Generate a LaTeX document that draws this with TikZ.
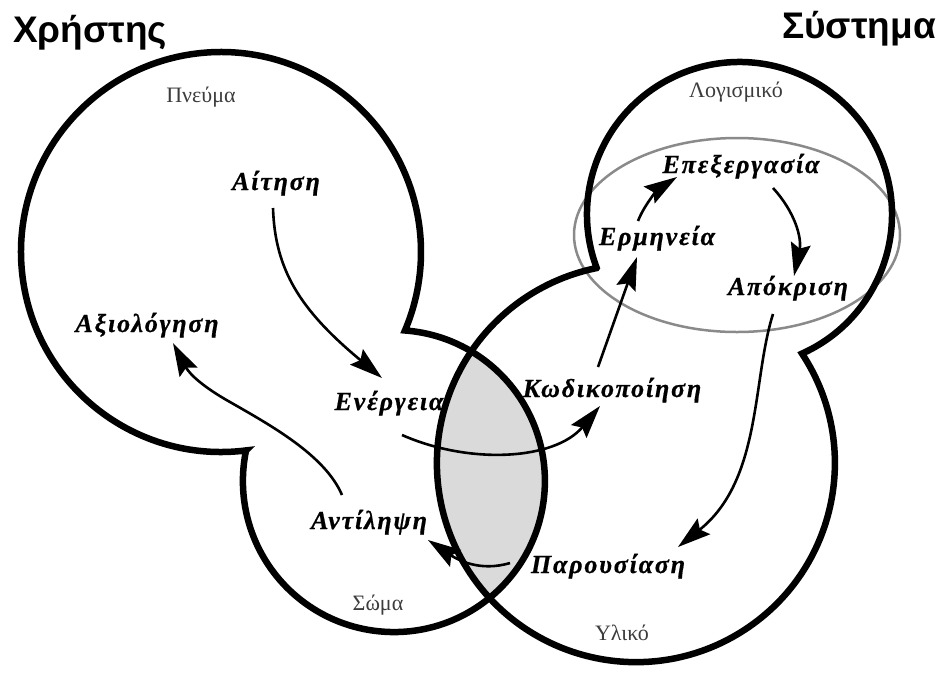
\documentclass[tikz,border=0pt]{standalone}
\usepackage{fontspec}
\setmainfont{Liberation Serif}
\newfontfamily\headfont{Liberation Sans}
\newfontfamily\stagefont[LetterSpace=7,BoldItalicFeatures={FakeBold=0.6}]{Liberation Serif}
\usetikzlibrary{calc,arrows.meta}
\definecolor{lensgray}{RGB}{218,218,218}
\definecolor{rimgray}{RGB}{138,138,138}
\definecolor{partgray}{RGB}{60,60,60}
\begin{document}
\begin{tikzpicture}[x=1pt,y=-1pt,
  outline/.style={line width=6.5pt, line join=miter, miter limit=10},
  flow/.style={line width=2.6pt, -{Stealth[length=33pt,width=20pt,inset=5pt]}},
  stage/.style={inner sep=0pt, anchor=base, font=\stagefont\fontsize{26}{30}\selectfont\bfseries\itshape},
  part/.style={inner sep=0pt, anchor=base, text=partgray, font=\fontsize{22}{26}\selectfont},
  head/.style={inner sep=0pt, font=\headfont\fontsize{37}{42}\selectfont\bfseries}]
\useasboundingbox (0,0) rectangle (940,673);

% shared region of body and hardware
\fill[lensgray] (394,481) ++(-59.2:151) arc[start angle=-59.2, end angle=50.7, radius=151]
  arc[start angle=137.4, end angle=214.1, radius=199] -- cycle;

% software layer ring
\draw[rimgray, line width=2.5pt] (737,235) ellipse [x radius=163, y radius=97];

% titles
\node[head, anchor=base west] (hdUser) at (13,42) {Χρήστης};
\node[head, anchor=base east] (hdSys) at (936,38) {Σύστημα};

% region names
\node[part] (pneuma) at (201,102) {Πνεύμα};
\node[part] (soma) at (378,610) {Σώμα};
\node[part] (logismiko) at (736,97) {Λογισμικό};
\node[part] (yliko) at (622,640) {Υλικό};

% stages
\node[stage] (aitisi) at (276,190) {Αίτηση};
\node[stage] (energeia) at (389,410) {Ενέργεια};
\node[stage] (axiologisi) at (147,332) {Αξιολόγηση};
\node[stage] (antilipsi) at (369,529) {Αντίληψη};
\node[stage] (kodikopoiisi) at (612,397) {Κωδικοποίηση};
\node[stage] (ermineia) at (657,245) {Ερμηνεία};
\node[stage] (epexergasia) at (741,173) {Επεξεργασία};
\node[stage] (apokrisi) at (788,295) {Απόκριση};
\node[stage] (parousiasi) at (608,573) {Παρουσίαση};

% user: mind and body
\draw[outline] (221,252) ++(82.8:200) arc[start angle=82.8, end angle=383.1, radius=200]
  arc[start angle=-85.8, end angle=191.7, radius=151] -- cycle;
% system: software and hardware
\draw[outline] (739.5,214.5) ++(159.5:152.5) arc[start angle=159.5, end angle=425.8, radius=152.5]
  arc[start angle=-33.4, end angle=258.6, radius=199] -- cycle;

% interaction cycle
\draw[flow] ($(aitisi.base)+(-3,18)$) .. controls (275,270) and (300,310) .. ($(energeia.base)+(-7,-32)$);
\draw[flow] ($(energeia.base)+(13,25)$) .. controls (470,465) and (555,460) .. ($(kodikopoiisi.base)+(-12,9)$);
\draw[flow] ($(kodikopoiisi.base)+(-14,-30)$) -- ($(ermineia.base)+(-20,12)$);
\draw[flow] ($(ermineia.base)+(-19,-24)$) .. controls (645,203) and (660,188) .. ($(epexergasia.base)+(-64,4)$);
\draw[flow] ($(epexergasia.base)+(32,15)$) .. controls (795,212) and (802,238) .. ($(apokrisi.base)+(6,-19)$);
\draw[flow] ($(apokrisi.base)+(-15,19)$) .. controls (752,380) and (762,480) .. ($(parousiasi.base)+(70,-26)$);
\draw[flow] ($(parousiasi.base)+(-98,-10)$) .. controls (480,572) and (458,560) .. ($(antilipsi.base)+(59,11)$);
\draw[flow] ($(antilipsi.base)+(-27,-34)$) .. controls (325,455) and (270,425) .. (230,402)
  .. controls (205,388) and (190,375) .. ($(axiologisi.base)+(26,11)$);
\end{tikzpicture}
\end{document}
